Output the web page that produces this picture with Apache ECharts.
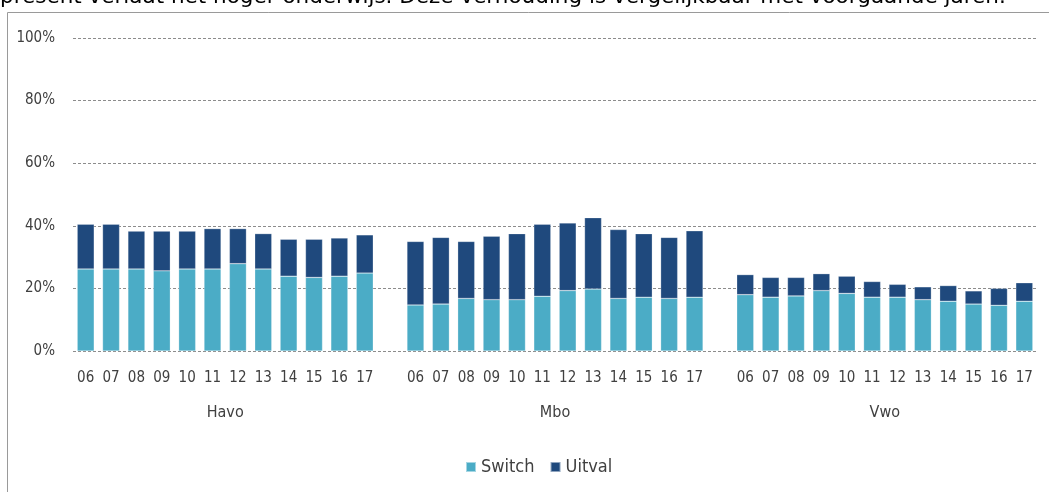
<!DOCTYPE html>
<html>
<head>
<meta charset="utf-8">
<title>Switch en uitval per vooropleiding</title>
<script src="https://cdn.jsdelivr.net/npm/echarts@6/dist/echarts.min.js"></script>
<style>
  html, body { margin: 0; padding: 0; background: #fff; }
  #chart { width: 1049px; height: 492px; }
</style>
</head>
<body>
<div id="chart"></div>
<script>
// Cohort years shown under every group
const years = ['06', '07', '08', '09', '10', '11', '12', '13', '14', '15', '16', '17'];
const groups = ['Havo', 'Mbo', 'Vwo'];

// Share of students (%) that switch programme, per group and year
const switchHavo = [26.2, 26.2, 26.2, 25.6, 26.2, 26.2, 27.9, 26.2, 23.9, 23.5, 23.9, 24.9];
const switchMbo  = [14.7, 15.0, 16.8, 16.4, 16.4, 17.5, 19.3, 19.8, 16.8, 17.2, 16.8, 17.2];
const switchVwo  = [18.0, 17.2, 17.6, 19.3, 18.4, 17.2, 17.2, 16.4, 15.9, 15.0, 14.6, 15.9];

// Share of students (%) that leave higher education, per group and year
const uitvalHavo = [14.3, 14.3, 12.1, 12.7, 12.1, 12.9, 11.2, 11.3, 11.8, 12.2, 12.2, 12.2];
const uitvalMbo  = [20.3, 21.3, 18.2, 20.3, 21.1, 23.0, 21.6, 22.8, 22.0, 20.3, 19.5, 21.2];
const uitvalVwo  = [6.4, 6.3, 5.9, 5.4, 5.5, 5.0, 4.1, 4.1, 5.0, 4.2, 5.4, 5.9];

const yTicks = [0, 20, 40, 60, 80, 100];

// One empty slot separates the groups on the category axis
const categories = [];
const switchData = [];
const uitvalData = [];
const groupCenters = [];
[[switchHavo, uitvalHavo], [switchMbo, uitvalMbo], [switchVwo, uitvalVwo]].forEach(function (pair, gi) {
  if (gi > 0) {
    categories.push('');
    switchData.push('-');
    uitvalData.push('-');
  }
  const start = categories.length;
  years.forEach(function (y, i) {
    categories.push(y);
    switchData.push(pair[0][i]);
    uitvalData.push(pair[1][i]);
  });
  groupCenters.push(start + (years.length - 1) / 2);
});

const textColor = '#404040';
const fontFamily = '"DejaVu Sans Condensed", "DejaVu Sans", sans-serif';

const chart = echarts.init(document.getElementById('chart'), null, { renderer: 'canvas' });

chart.setOption({
  animation: false,
  backgroundColor: '#ffffff',
  textStyle: { fontFamily: fontFamily, color: textColor },
  graphic: [
    {
      type: 'text',
      left: 0,
      top: -14,
      style: {
        text: 'present verlaat het hoger onderwijs. Deze verhouding is vergelijkbaar met voorgaande jaren.',
        font: '21.5px "DejaVu Sans", sans-serif',
        fill: '#000000'
      }
    },
    {
      type: 'rect',
      shape: { x: 7.5, y: 12.5, width: 1200, height: 600 },
      style: { fill: 'none', stroke: '#9a9a9a', lineWidth: 1 },
      silent: true
    }
  ],
  grid: { left: 73, right: 12, top: 38, bottom: 141 },
  legend: {
    left: 460,
    top: 453,
    itemWidth: 10,
    itemHeight: 10,
    itemGap: 15,
    icon: 'rect',
    textStyle: { fontFamily: fontFamily, fontSize: 18, color: textColor },
    data: ['Switch', 'Uitval']
  },
  xAxis: [
    {
      type: 'category',
      data: categories,
      axisLine: { show: false },
      axisTick: { show: false },
      axisLabel: { interval: 0, margin: 20, fontSize: 15, color: textColor, fontFamily: fontFamily }
    },
    {
      type: 'value',
      position: 'bottom',
      min: -0.5,
      max: categories.length - 0.5,
      axisLine: { show: false },
      axisTick: { show: false },
      splitLine: { show: false },
      axisLabel: {
        customValues: groupCenters,
        margin: 54,
        fontSize: 16,
        color: textColor,
        fontFamily: fontFamily,
        formatter: function (v) {
          const idx = groupCenters.indexOf(v);
          return idx >= 0 ? groups[idx] : '';
        }
      }
    }
  ],
  yAxis: {
    type: 'value',
    min: yTicks[0],
    max: yTicks[yTicks.length - 1],
    interval: 20,
    axisLine: { show: false },
    axisTick: { show: false },
    axisLabel: { margin: 18, fontSize: 15, color: textColor, fontFamily: fontFamily, formatter: '{value}%' },
    splitLine: { lineStyle: { type: [3, 2], color: '#8c8c8c', width: 1 } }
  },
  series: [
    {
      name: 'Switch',
      type: 'bar',
      stack: 'totaal',
      data: switchData,
      barCategoryGap: '33%',
      itemStyle: { color: '#4BACC6', borderColor: 'rgba(255,255,255,0.5)', borderWidth: 0.5 }
    },
    {
      name: 'Uitval',
      type: 'bar',
      stack: 'totaal',
      data: uitvalData,
      barCategoryGap: '33%',
      itemStyle: { color: '#1F497D', borderColor: 'rgba(255,255,255,0.5)', borderWidth: 0.5 }
    }
  ]
});
</script>
</body>
</html>
